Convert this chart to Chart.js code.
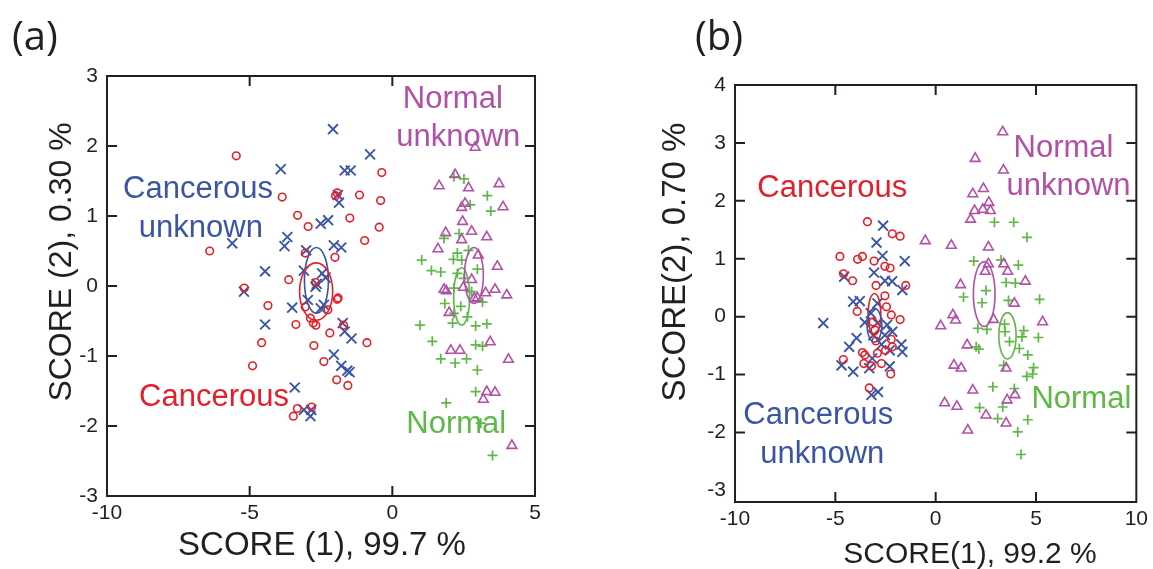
<!DOCTYPE html>
<html>
<head>
<meta charset="utf-8">
<script src="https://cdn.jsdelivr.net/npm/chart.js@4.4.1/dist/chart.umd.min.js"></script>
<style>
  html, body { margin: 0; padding: 0; background: #fff; }
  body { width: 1153px; height: 569px; position: relative; overflow: hidden; }
  canvas { position: absolute; top: 0; }
  #chartA { left: 0; }
  #chartB { left: 600px; }
</style>
</head>
<body>
<canvas id="chartA" width="600" height="569"></canvas>
<canvas id="chartB" width="553" height="569"></canvas>
<script>
// ---- panel (a) data: [SCORE(1), SCORE(2)] ----
const cancerousA = [[-5.47,1.86],[-3.86,1.27],[-6.40,0.50],[-3.32,1.01],[-2.95,0.85],[-1.93,1.33],[-1.15,1.30],[-0.37,1.62],[-0.41,1.22],[-1.49,0.97],[-0.46,0.84],[-0.97,0.65],[-3.05,0.47],[-2.01,0.41],[-3.63,0.09],[-5.19,-0.03],[-4.36,-0.28],[-3.05,-0.30],[-3.38,-0.55],[-4.58,-0.81],[-4.90,-1.14],[-2.77,-0.53],[-2.68,-0.56],[-1.93,-0.19],[-2.19,-0.67],[-2.75,-0.85],[-2.40,-1.08],[-1.95,-1.34],[-1.56,-1.42],[-1.71,-0.56],[-0.89,-0.81],[-2.83,-1.73],[-3.47,-1.86],[-3.33,-1.75],[-2.26,-0.34],[-2.87,-0.46],[-2.69,0.05],[-1.99,1.29],[-1.90,-0.17]];
const cancerousUnknownA = [[-2.08,2.24],[-0.78,1.88],[-3.91,1.67],[-1.67,1.65],[-1.46,1.65],[-1.91,1.30],[-1.87,1.19],[-2.51,0.89],[-2.25,0.94],[-3.68,0.70],[-3.78,0.57],[-5.61,0.61],[-2.05,0.58],[-1.79,0.55],[-3.02,0.51],[-4.46,0.21],[-3.10,0.22],[-2.46,0.18],[-2.34,0.12],[-2.69,-0.01],[-2.65,0.03],[-5.20,-0.08],[-2.96,-0.20],[-3.51,-0.31],[-2.51,-0.32],[-4.46,-0.55],[-1.74,-0.53],[-1.67,-0.65],[-1.43,-0.75],[-2.05,-0.98],[-1.79,-1.14],[-1.58,-1.21],[-1.50,-1.23],[-3.42,-1.45],[-3.10,-1.77],[-2.84,-1.77],[-2.87,-1.86],[-2.40,-0.27]];
const normalUnknownA = [[2.90,1.98],[2.20,1.59],[1.64,1.43],[2.67,1.40],[3.74,1.46],[3.88,1.13],[2.55,1.18],[2.43,1.12],[2.46,0.92],[1.87,0.76],[2.78,0.78],[2.43,0.66],[3.31,0.70],[1.60,0.53],[3.01,0.44],[3.68,0.28],[2.78,0.09],[1.81,-0.05],[1.89,-0.07],[2.49,-0.02],[3.27,-0.10],[3.60,-0.05],[4.01,-0.13],[2.98,-0.17],[2.87,-0.18],[1.99,-0.38],[2.05,-0.92],[2.37,-0.92],[3.43,-0.80],[4.07,-1.05],[3.31,-1.51],[3.60,-1.52],[3.19,-1.62],[4.19,-2.28]];
const normalA = [[2.16,1.56],[2.51,1.53],[3.33,1.29],[3.45,1.07],[2.73,1.16],[2.34,0.75],[1.81,0.68],[2.67,0.51],[1.03,0.37],[1.37,0.22],[1.70,0.20],[2.14,0.38],[2.28,0.47],[2.43,0.37],[2.98,0.24],[2.28,0.18],[2.16,-0.03],[2.51,0.11],[1.84,-0.25],[3.16,-0.23],[2.78,-0.08],[2.16,-0.39],[2.63,-0.44],[0.97,-0.56],[2.11,-0.53],[2.92,-0.57],[3.31,-0.54],[1.40,-0.79],[2.92,-0.84],[3.16,-0.86],[1.70,-1.04],[2.20,-1.10],[2.60,-1.04],[2.98,-1.20],[2.92,-1.51],[1.89,-1.67],[3.10,-1.96],[3.51,-2.42],[2.40,-0.29]];
// ellipses: [centre x, centre y, half width, half height]
const ellipsesA = [[-2.66,0.08,0.42,0.47],[-2.67,-0.08,0.58,0.41],[2.43,-0.15,0.28,0.41],[2.86,0.15,0.33,0.40]];
const xTicksA = [-10, -5, 0, 5];
const yTicksA = [-3, -2, -1, 0, 1, 2, 3];

// ---- panel (b) data ----
const cancerousB = [[-3.40,1.64],[-2.16,1.43],[-1.77,1.39],[-4.77,1.04],[-3.89,0.99],[-3.65,1.04],[-3.07,0.96],[-2.53,0.87],[-2.27,0.84],[-4.59,0.74],[-4.14,0.62],[-2.97,0.54],[-1.49,0.54],[-2.53,0.36],[-3.91,0.09],[-2.21,0.03],[-1.77,-0.05],[-2.45,0.17],[-3.12,-0.09],[-3.03,-0.23],[-2.98,-0.42],[-2.21,-0.39],[-2.16,-0.52],[-3.65,-0.62],[-3.53,-0.66],[-4.60,-0.74],[-3.58,-0.81],[-3.20,-0.85],[-2.70,-0.81],[-2.24,-0.99],[-3.31,-1.23],[-2.90,-0.63],[-2.50,-0.58]];
const cancerousUnknownB = [[-2.62,1.57],[-2.95,1.28],[-2.65,1.05],[-1.54,0.96],[-3.07,0.76],[-4.56,0.69],[-2.53,0.62],[-2.17,0.61],[-1.66,0.46],[-4.11,0.26],[-3.78,0.27],[-2.90,0.23],[-5.60,-0.11],[-3.23,0.06],[-3.53,-0.10],[-2.90,-0.11],[-2.42,-0.14],[-2.16,-0.26],[-3.94,-0.37],[-4.31,-0.52],[-3.11,-0.32],[-2.70,-0.48],[-1.71,-0.48],[-1.66,-0.61],[-2.29,-0.58],[-3.16,-0.72],[-4.69,-0.84],[-4.11,-0.95],[-3.31,-0.89],[-2.29,-0.86],[-2.87,-1.30],[-3.20,-1.35],[-2.53,-0.32]];
const normalUnknownB = [[3.34,3.19],[1.97,2.73],[3.38,2.53],[1.85,2.12],[2.38,2.21],[2.65,1.97],[2.35,1.85],[1.94,1.83],[2.73,1.83],[1.74,1.68],[-0.52,1.31],[0.78,1.23],[2.63,1.20],[2.63,0.91],[3.39,0.91],[3.59,0.78],[2.47,0.78],[4.47,0.61],[1.24,0.55],[3.92,0.23],[0.86,0.03],[0.99,-0.06],[0.25,-0.16],[2.88,-0.05],[5.33,-0.09],[1.57,-0.49],[0.91,-0.84],[1.27,-0.89],[3.51,-0.89],[1.85,-1.27],[3.95,-1.35],[3.56,-1.44],[0.45,-1.49],[1.06,-1.55],[2.51,-1.70],[3.51,-1.84],[1.60,-1.96]];
const normalB = [[2.93,1.63],[3.89,1.63],[4.55,1.37],[1.90,0.96],[3.26,0.98],[4.12,0.89],[3.51,0.59],[3.97,0.58],[2.51,0.45],[1.39,0.34],[2.31,0.24],[5.18,0.30],[3.63,0.28],[2.10,-0.20],[2.55,-0.22],[3.43,-0.13],[3.46,-0.26],[4.39,-0.24],[4.30,-0.35],[5.12,-0.36],[3.68,-0.43],[2.15,-0.56],[4.17,-0.55],[4.59,-0.66],[3.39,-0.84],[4.88,-0.88],[4.83,-0.99],[4.54,-1.03],[2.85,-1.21],[3.92,-1.24],[2.19,-1.57],[3.09,-1.76],[3.34,-1.56],[4.59,-1.78],[4.09,-1.99],[4.25,-2.38],[2.02,-0.52]];
const ellipsesB = [[-3.05,0.04,0.32,0.36],[-3.05,-0.15,0.37,0.29],[2.42,0.39,0.54,0.56],[3.58,-0.33,0.43,0.40]];
const xTicksB = [-10, -5, 0, 5, 10];
const yTicksB = [-3, -2, -1, 0, 1, 2, 3, 4];

const RED = '#e3202a';
const BLUE = '#3a55a4';
const MAGENTA = '#b24fa6';
const GREEN = '#5db848';
const INK = '#231f20';
const SANS = '"Liberation Sans", Arial, sans-serif';

function pts(arr) {
  return arr.map(p => ({ x: p[0], y: p[1] }));
}

function series(data, color, style, radius, width) {
  return {
    data: pts(data),
    pointStyle: style,
    pointRadius: radius,
    pointBorderColor: color,
    pointBackgroundColor: 'rgba(0,0,0,0)',
    pointBorderWidth: width,
    showLine: false
  };
}

// box, inward tick marks, ellipses, labels and titles
const decor = {
  id: 'decor',
  afterDatasetsDraw(chart, args, opts) {
    const ctx = chart.ctx;
    const a = chart.chartArea;
    const xs = chart.scales.x, ys = chart.scales.y;
    ctx.save();
    ctx.lineWidth = 1.6;
    opts.ellipses.forEach((e, i) => {
      const cx = xs.getPixelForValue(e[0]);
      const cy = ys.getPixelForValue(e[1]);
      const rx = Math.abs(xs.getPixelForValue(e[0] + e[2]) - cx);
      const ry = Math.abs(ys.getPixelForValue(e[1] + e[3]) - cy);
      ctx.strokeStyle = opts.ellipseColors[i];
      ctx.beginPath();
      ctx.ellipse(cx, cy, rx, ry, 0, 0, Math.PI * 2);
      ctx.stroke();
    });
    ctx.strokeStyle = INK;
    ctx.lineWidth = 2;
    ctx.strokeRect(a.left, a.top, a.right - a.left, a.bottom - a.top);
    const len = 10;
    ctx.beginPath();
    xs.ticks.slice(1, -1).forEach(t => {
      const px = xs.getPixelForValue(t.value);
      ctx.moveTo(px, a.bottom); ctx.lineTo(px, a.bottom - len);
      ctx.moveTo(px, a.top); ctx.lineTo(px, a.top + len);
    });
    ys.ticks.slice(1, -1).forEach(t => {
      const py = ys.getPixelForValue(t.value);
      ctx.moveTo(a.left, py); ctx.lineTo(a.left + len, py);
      ctx.moveTo(a.right, py); ctx.lineTo(a.right - len, py);
    });
    ctx.stroke();
    ctx.restore();
  },
  afterDraw(chart, args, opts) {
    const ctx = chart.ctx;
    const xs = chart.scales.x, ys = chart.scales.y;
    ctx.save();
    ctx.textAlign = 'center';
    ctx.textBaseline = 'alphabetic';
    ctx.font = '31px ' + SANS;
    opts.labels.forEach(l => {
      ctx.fillStyle = l.color;
      ctx.fillText(l.text, xs.getPixelForValue(l.x), ys.getPixelForValue(l.y));
    });
    ctx.fillStyle = INK;
    ctx.font = opts.xTitle.size + 'px ' + SANS;
    ctx.fillText(opts.xTitle.text, opts.xTitle.x, opts.xTitle.y);
    ctx.save();
    ctx.translate(opts.yTitle.x, opts.yTitle.y);
    ctx.rotate(-Math.PI / 2);
    ctx.textBaseline = 'middle';
    ctx.font = opts.yTitle.size + 'px ' + SANS;
    ctx.fillText(opts.yTitle.text, 0, 0);
    ctx.restore();
    ctx.textAlign = 'left';
    ctx.font = '40px "Open Sans", sans-serif';
    ctx.fillText(opts.panel.text, opts.panel.x, opts.panel.y);
    ctx.restore();
  }
};

function makeChart(id, c) {
  return new Chart(document.getElementById(id), {
    type: 'scatter',
    data: {
      datasets: [
        series(c.red, RED, 'circle', 3.8, 1.6),
        series(c.blue, BLUE, 'crossRot', 7, 1.9),
        series(c.magenta, MAGENTA, 'triangle', 5.6, 1.6),
        series(c.green, GREEN, 'cross', 5, 1.7)
      ]
    },
    options: {
      responsive: false,
      animation: false,
      layout: { padding: c.padding },
      scales: {
        x: {
          type: 'linear', min: c.xMin, max: c.xMax,
          afterBuildTicks: s => { s.ticks = c.xTicks.map(v => ({ value: v })); },
          afterFit: s => { s.height = c.xHeight; },
          ticks: { color: INK, font: { family: 'Liberation Sans', size: 21 }, padding: 5, autoSkip: false, maxRotation: 0 },
          grid: { display: false, drawTicks: false },
          border: { display: false }
        },
        y: {
          type: 'linear', min: c.yMin, max: c.yMax,
          afterBuildTicks: s => { s.ticks = c.yTicks.map(v => ({ value: v })); },
          afterFit: s => { s.width = c.yWidth; },
          ticks: { color: INK, font: { family: 'Liberation Sans', size: 21 }, padding: 9, autoSkip: false },
          grid: { display: false, drawTicks: false },
          border: { display: false }
        }
      },
      plugins: {
        legend: { display: false },
        tooltip: { enabled: false },
        decor: c.decor
      }
    },
    plugins: [decor]
  });
}

makeChart('chartA', {
  red: cancerousA, blue: cancerousUnknownA, magenta: normalUnknownA, green: normalA,
  xMin: -10, xMax: 5, yMin: -3, yMax: 3, xTicks: xTicksA, yTicks: yTicksA,
  padding: { left: 0, top: 76, right: 65, bottom: 0 }, yWidth: 107, xHeight: 73,
  decor: {
    ellipses: ellipsesA,
    ellipseColors: [BLUE, RED, GREEN, MAGENTA],
    labels: [
      { text: 'Normal', x: 2.12, y: 2.55, color: MAGENTA },
      { text: 'unknown', x: 2.31, y: 2.00, color: MAGENTA },
      { text: 'Cancerous', x: -6.81, y: 1.26, color: BLUE },
      { text: 'unknown', x: -6.71, y: 0.70, color: BLUE },
      { text: 'Cancerous', x: -6.25, y: -1.72, color: RED },
      { text: 'Normal', x: 2.24, y: -2.10, color: GREEN }
    ],
    xTitle: { text: 'SCORE (1), 99.7 %', x: 322, y: 555, size: 33 },
    yTitle: { text: 'SCORE (2), 0.30 %', x: 62, y: 262, size: 32 },
    panel: { text: '(a)', x: 12, y: 50 }
  }
});

makeChart('chartB', {
  red: cancerousB, blue: cancerousUnknownB, magenta: normalUnknownB, green: normalB,
  xMin: -10, xMax: 10, yMin: -3.2, yMax: 4, xTicks: xTicksB, yTicks: yTicksB,
  padding: { left: 0, top: 85, right: 13, bottom: 0 }, yWidth: 135, xHeight: 67,
  decor: {
    ellipses: ellipsesB,
    ellipseColors: [RED, BLUE, MAGENTA, GREEN],
    labels: [
      { text: 'Cancerous', x: -5.15, y: 2.07, color: RED },
      { text: 'Normal', x: 6.37, y: 2.76, color: MAGENTA },
      { text: 'unknown', x: 6.62, y: 2.10, color: MAGENTA },
      { text: 'Normal', x: 7.26, y: -1.58, color: GREEN },
      { text: 'Cancerous', x: -5.85, y: -1.85, color: BLUE },
      { text: 'unknown', x: -5.65, y: -2.53, color: BLUE }
    ],
    xTitle: { text: 'SCORE(1), 99.2 %', x: 370, y: 563, size: 30 },
    yTitle: { text: 'SCORE(2), 0.70 %', x: 76, y: 262, size: 33 },
    panel: { text: '(b)', x: 95, y: 50 }
  }
});
</script>
</body>
</html>
